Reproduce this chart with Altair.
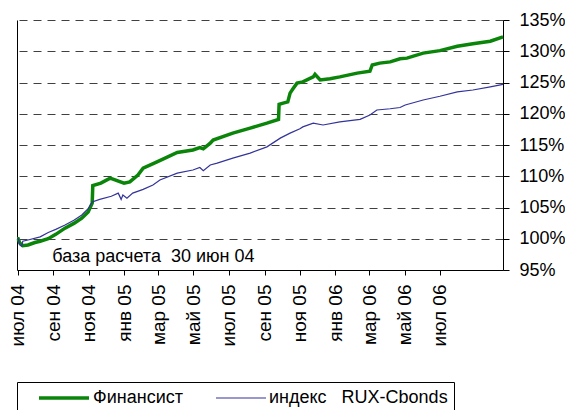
import altair as alt
import pandas as pd

NB = "\u00a0"
SERIES = ["Финансист", "индекс" + NB + NB + NB + "RUX-Cbonds"]
COLORS = ["#0a850a", "#33339a"]
WIDTHS = [3.5, 1.2]

fin_dates = ["2004-06-30", "2004-07-02", "2004-07-05", "2004-07-10", "2004-07-19", "2004-07-31",
             "2004-08-09", "2004-08-23", "2004-09-05", "2004-09-21", "2004-10-07", "2004-10-20",
             "2004-10-31", "2004-11-07", "2004-11-08", "2004-11-22", "2004-12-08", "2004-12-14",
             "2005-01-01", "2005-01-11", "2005-01-25", "2005-02-03", "2005-02-27", "2005-04-03",
             "2005-04-30", "2005-05-12", "2005-05-18", "2005-05-30", "2005-06-04", "2005-07-08",
             "2005-08-07", "2005-09-05", "2005-09-25", "2005-09-26", "2005-10-03", "2005-10-11",
             "2005-10-15", "2005-10-20", "2005-10-27", "2005-11-06", "2005-11-24", "2005-11-27",
             "2005-12-06", "2005-12-23", "2006-01-09", "2006-02-08", "2006-03-02", "2006-03-06",
             "2006-03-19", "2006-04-06", "2006-04-23", "2006-05-05", "2006-06-02", "2006-07-01",
             "2006-07-31", "2006-08-27", "2006-09-26", "2006-10-18"]
fin_values = [100.0, 100.0, 99.3, 98.9, 99.0, 99.4,
              99.6, 100.0, 100.7, 101.7, 102.5, 103.3,
              104.3, 105.7, 108.5, 108.9, 109.7, 109.5,
              108.9, 109.1, 110.2, 111.3, 112.3, 113.8,
              114.2, 114.6, 114.4, 115.3, 115.8, 116.9,
              117.7, 118.5, 119.1, 121.5, 121.7, 121.9,
              123.3, 124.0, 124.9, 125.1, 125.9, 126.3,
              125.4, 125.6, 125.9, 126.5, 126.8, 127.8,
              128.1, 128.3, 128.8, 128.9, 129.7, 130.1,
              130.8, 131.2, 131.6, 132.3]

rux_dates = ["2004-06-30", "2004-07-02", "2004-07-05", "2004-07-08", "2004-07-10", "2004-07-19",
             "2004-08-09", "2004-08-23", "2004-09-05", "2004-09-21", "2004-10-07", "2004-10-20",
             "2004-10-31", "2004-11-07", "2004-11-20", "2004-12-10", "2004-12-22", "2004-12-27",
             "2004-12-30", "2005-01-06", "2005-01-16", "2005-02-03", "2005-02-20", "2005-03-04",
             "2005-04-03", "2005-04-30", "2005-05-12", "2005-05-18", "2005-05-30", "2005-06-11",
             "2005-07-08", "2005-08-07", "2005-09-05", "2005-09-28", "2005-10-15", "2005-11-01",
             "2005-11-06", "2005-11-24", "2005-12-11", "2006-01-09", "2006-02-13", "2006-03-02",
             "2006-03-14", "2006-04-06", "2006-04-23", "2006-05-02", "2006-06-02", "2006-07-01",
             "2006-07-31", "2006-08-27", "2006-09-26", "2006-10-18"]
rux_values = [100.0, 100.0, 99.0, 98.8, 99.6, 99.8,
              100.3, 101.0, 101.5, 102.2, 103.0, 103.8,
              104.8, 105.9, 106.3, 106.8, 107.3, 106.3,
              107.0, 106.5, 107.3, 107.9, 108.6, 109.4,
              110.5, 111.0, 111.4, 110.9, 111.8, 112.1,
              112.9, 113.7, 114.7, 116.1, 116.9, 117.6,
              117.9, 118.5, 118.2, 118.7, 119.1, 119.8,
              120.6, 120.8, 121.0, 121.4, 122.2, 122.8,
              123.5, 123.8, 124.3, 124.7]

tick_dates = [(2004, 7), (2004, 9), (2004, 11), (2005, 1), (2005, 3), (2005, 5), (2005, 7),
              (2005, 9), (2005, 11), (2006, 1), (2006, 3), (2006, 5), (2006, 7)]
month_names = ["янв", "фев", "мар", "апр", "май", "июн", "июл", "авг", "сен", "окт", "ноя", "дек"]
y_ticks = [95, 100, 105, 110, 115, 120, 125, 130, 135]

note_text = ["база расчета" + NB + " 30 июн 04"]
note_date = ["2004-08-30"]
note_value = [97.1]

df = pd.concat([
    pd.DataFrame({"date": fin_dates, "value": fin_values, "series": SERIES[0]}),
    pd.DataFrame({"date": rux_dates, "value": rux_values, "series": SERIES[1]}),
])
note_df = pd.DataFrame({"date": note_date, "value": note_value, "label": note_text})

FONT = "Liberation Sans"
months_js = "[" + ",".join("'" + m + "'" for m in month_names) + "]"

x_scale = alt.Scale(type="utc", domain=[alt.DateTime(year=2004, month=6, date=30, utc=True),
                                         alt.DateTime(year=2006, month=10, date=18, utc=True)])
x_axis = alt.Axis(
    title=None, grid=False,
    values=[alt.DateTime(year=y, month=m, date=1, utc=True) for y, m in tick_dates],
    labelExpr=months_js + "[utcmonth(datum.value)] + ' ' + utcFormat(datum.value, '%y')",
    labelAngle=270, labelFontSize=19, labelFont=FONT, labelColor="black",
    labelPadding=9, tickSize=5, tickColor="black", domainColor="black",
    labelOverlap=False, labelFlush=False,
)
y_scale = alt.Scale(domain=[95, 135], nice=False, zero=False)

leg = alt.Legend(
    title=None, orient="none", legendX=0, legendY=362, direction="horizontal",
    symbolType="stroke", symbolSize=2500, clipHeight=20, padding=6,
    strokeColor="black", fillColor="white", symbolOffset=14, labelOffset=2,
    columnPadding=18, labelFontSize=18, labelFont=FONT, labelColor="black",
    labelLimit=400,
)

lines = alt.Chart(df).mark_line(interpolate="linear").encode(
    x=alt.X("date:T", scale=x_scale, axis=x_axis),
    y=alt.Y("value:Q", scale=y_scale, axis=alt.Axis(
        orient="right", title=None, values=y_ticks, labelExpr="datum.value + '%'",
        grid=True, gridDash=[8, 6], gridColor="#404040", gridWidth=1,
        labelFontSize=18, labelFont=FONT, labelColor="black", labelPadding=10,
        tickSize=6, tickColor="black", domainColor="black")),
    color=alt.Color("series:N", scale=alt.Scale(domain=SERIES, range=COLORS), legend=leg),
    strokeWidth=alt.StrokeWidth("series:N", scale=alt.Scale(domain=SERIES, range=WIDTHS), legend=leg),
    order=alt.Order("date:T"),
)

note = alt.Chart(note_df).mark_text(align="left", baseline="middle", fontSize=18, font=FONT,
                                    color="black").encode(
    x=alt.X("date:T", axis=x_axis),
    y=alt.Y("value:Q", axis=alt.Axis(orient="left", title=None, labels=False, ticks=False,
                                     grid=False, domainColor="black")),
    text="label:N",
)

chart = alt.layer(lines, note).resolve_axis(y="independent").properties(
    width=486, height=250,
    autosize=alt.AutoSizeParams(type="none"),
    padding={"left": 9, "top": 12, "right": 62, "bottom": 140},
    background="white",
).configure_view(stroke=None)

chart.save("out.html", embed_options={"renderer": "svg", "actions": False})
